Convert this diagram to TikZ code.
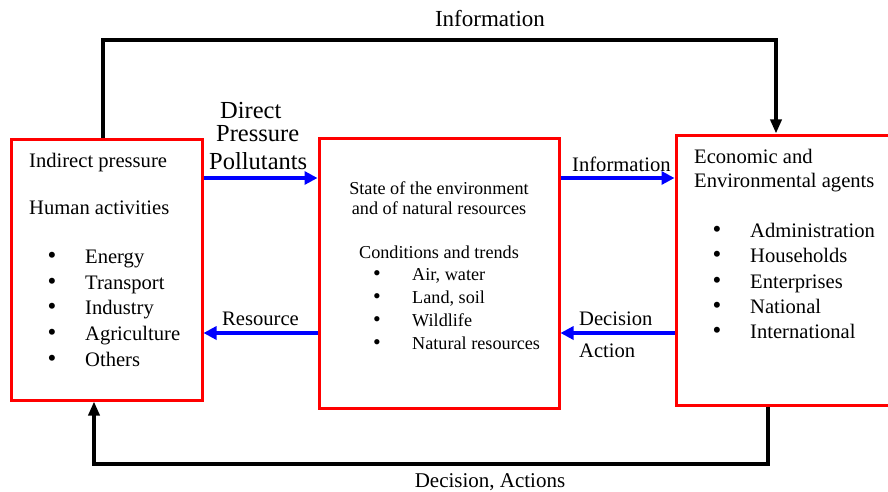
\documentclass[tikz,border=0pt]{standalone}
\usepackage{fontspec}
\setmainfont{Liberation Serif}
\usetikzlibrary{arrows.meta}
\definecolor{boxred}{RGB}{255,0,0}
\definecolor{arrblue}{RGB}{0,0,255}
\begin{document}
\begin{tikzpicture}[x=1pt,y=-1pt,
  box/.style={draw=boxred,line width=3pt,minimum width=#1,inner sep=0pt},
  bluearrow/.style={draw=arrblue,line width=3.2pt,-{Triangle[length=13pt,width=13pt]}},
  blackarrow/.style={draw=black,line width=3.4pt,-{Triangle[length=14pt,width=11pt]}},
  txt/.style={anchor=base west,inner sep=0pt,font=\fontsize{20.6}{24}\selectfont},
  mtxt/.style={anchor=base west,inner sep=0pt,font=\fontsize{18.2}{22}\selectfont},
  ctr/.style={anchor=base,inner sep=0pt},
  bul/.style={anchor=base,inner sep=0pt,font=\fontsize{25}{28}\selectfont}]
\useasboundingbox (0,0) rectangle (888,492);
% boxes
\node[box=191pt,minimum height=261pt] (L) at (106.5,269.5) {};
\node[box=240pt,minimum height=270pt] (M) at (439,273) {};
\node[box=216pt,minimum height=270pt] (R) at (784,270) {};
% helper coordinates
\coordinate (tl) at (103,40);
\coordinate (tr) at (776,40);
\coordinate (bl) at (94,464);
\coordinate (br) at (768,464);
\coordinate (ya) at (0,178);
\coordinate (yb) at (0,333);
% black loops
\draw[blackarrow] (L.north -| tl) -- (tl) -- (tr) -- (R.north -| tr);
\draw[blackarrow] (R.south -| br) -- (br) -- (bl) -- (L.south -| bl);
\node[ctr,font=\fontsize{23}{26}\selectfont] (tinfo) at (490,27) {Information};
\node[ctr,font=\fontsize{21}{24}\selectfont] (tdec) at (490,487) {Decision, Actions};
% blue arrows
\draw[bluearrow] (L.east |- ya) -- (M.west |- ya);
\draw[bluearrow] (M.west |- yb) -- (L.east |- yb);
\draw[bluearrow] (M.east |- ya) -- (R.west |- ya);
\draw[bluearrow] (R.west |- yb) -- (M.east |- yb);
% arrow labels
\node[anchor=base west,inner sep=0pt,font=\fontsize{24.5}{28}\selectfont] (d1) at (220,118) {Direct};
\node[anchor=base west,inner sep=0pt,font=\fontsize{24.5}{28}\selectfont] (d2) at (216,141) {Pressure};
\node[anchor=base west,inner sep=0pt,font=\fontsize{24.5}{28}\selectfont] (d3) at (209,169) {Pollutants};
\node[txt] (lres) at (222,325) {Resource};
\node[txt] (linf) at (572,171) {Information};
\node[txt] (ldec) at (579,325) {Decision};
\node[txt] (lact) at (579,357) {Action};
% left box text
\node[txt] (l1) at (29,167) {Indirect pressure};
\node[txt] (l2) at (29,214) {Human activities};
\foreach \t/\y [count=\i] in {Energy/263,Transport/289,Industry/314,Agriculture/340,Others/366}{
  \node[bul] (lb\i) at (52,\y) {\textbullet};
  \node[txt] (li\i) at (85,\y) {\t};
}
% middle box text
\node[ctr,font=\fontsize{18.2}{22}\selectfont] (m1) at (439,194) {State of the environment};
\node[ctr,font=\fontsize{18.2}{22}\selectfont] (m2) at (439,214) {and of natural resources};
\node[ctr,font=\fontsize{18.2}{22}\selectfont] (m3) at (439,258) {Conditions and trends};
\foreach \t/\y [count=\i] in {{Air, water}/280,{Land, soil}/303,Wildlife/326,Natural resources/349}{
  \node[bul,font=\fontsize{22}{26}\selectfont] (mb\i) at (377,\y) {\textbullet};
  \node[mtxt] (mi\i) at (412,\y) {\t};
}
% right box text
\node[txt] (r1) at (694,163) {Economic and};
\node[txt] (r2) at (694,187) {Environmental agents};
\foreach \t/\y [count=\i] in {Administration/237,Households/262,Enterprises/288,National/313,International/338}{
  \node[bul] (rb\i) at (717,\y) {\textbullet};
  \node[txt] (ri\i) at (750,\y) {\t};
}
\end{tikzpicture}
\end{document}
